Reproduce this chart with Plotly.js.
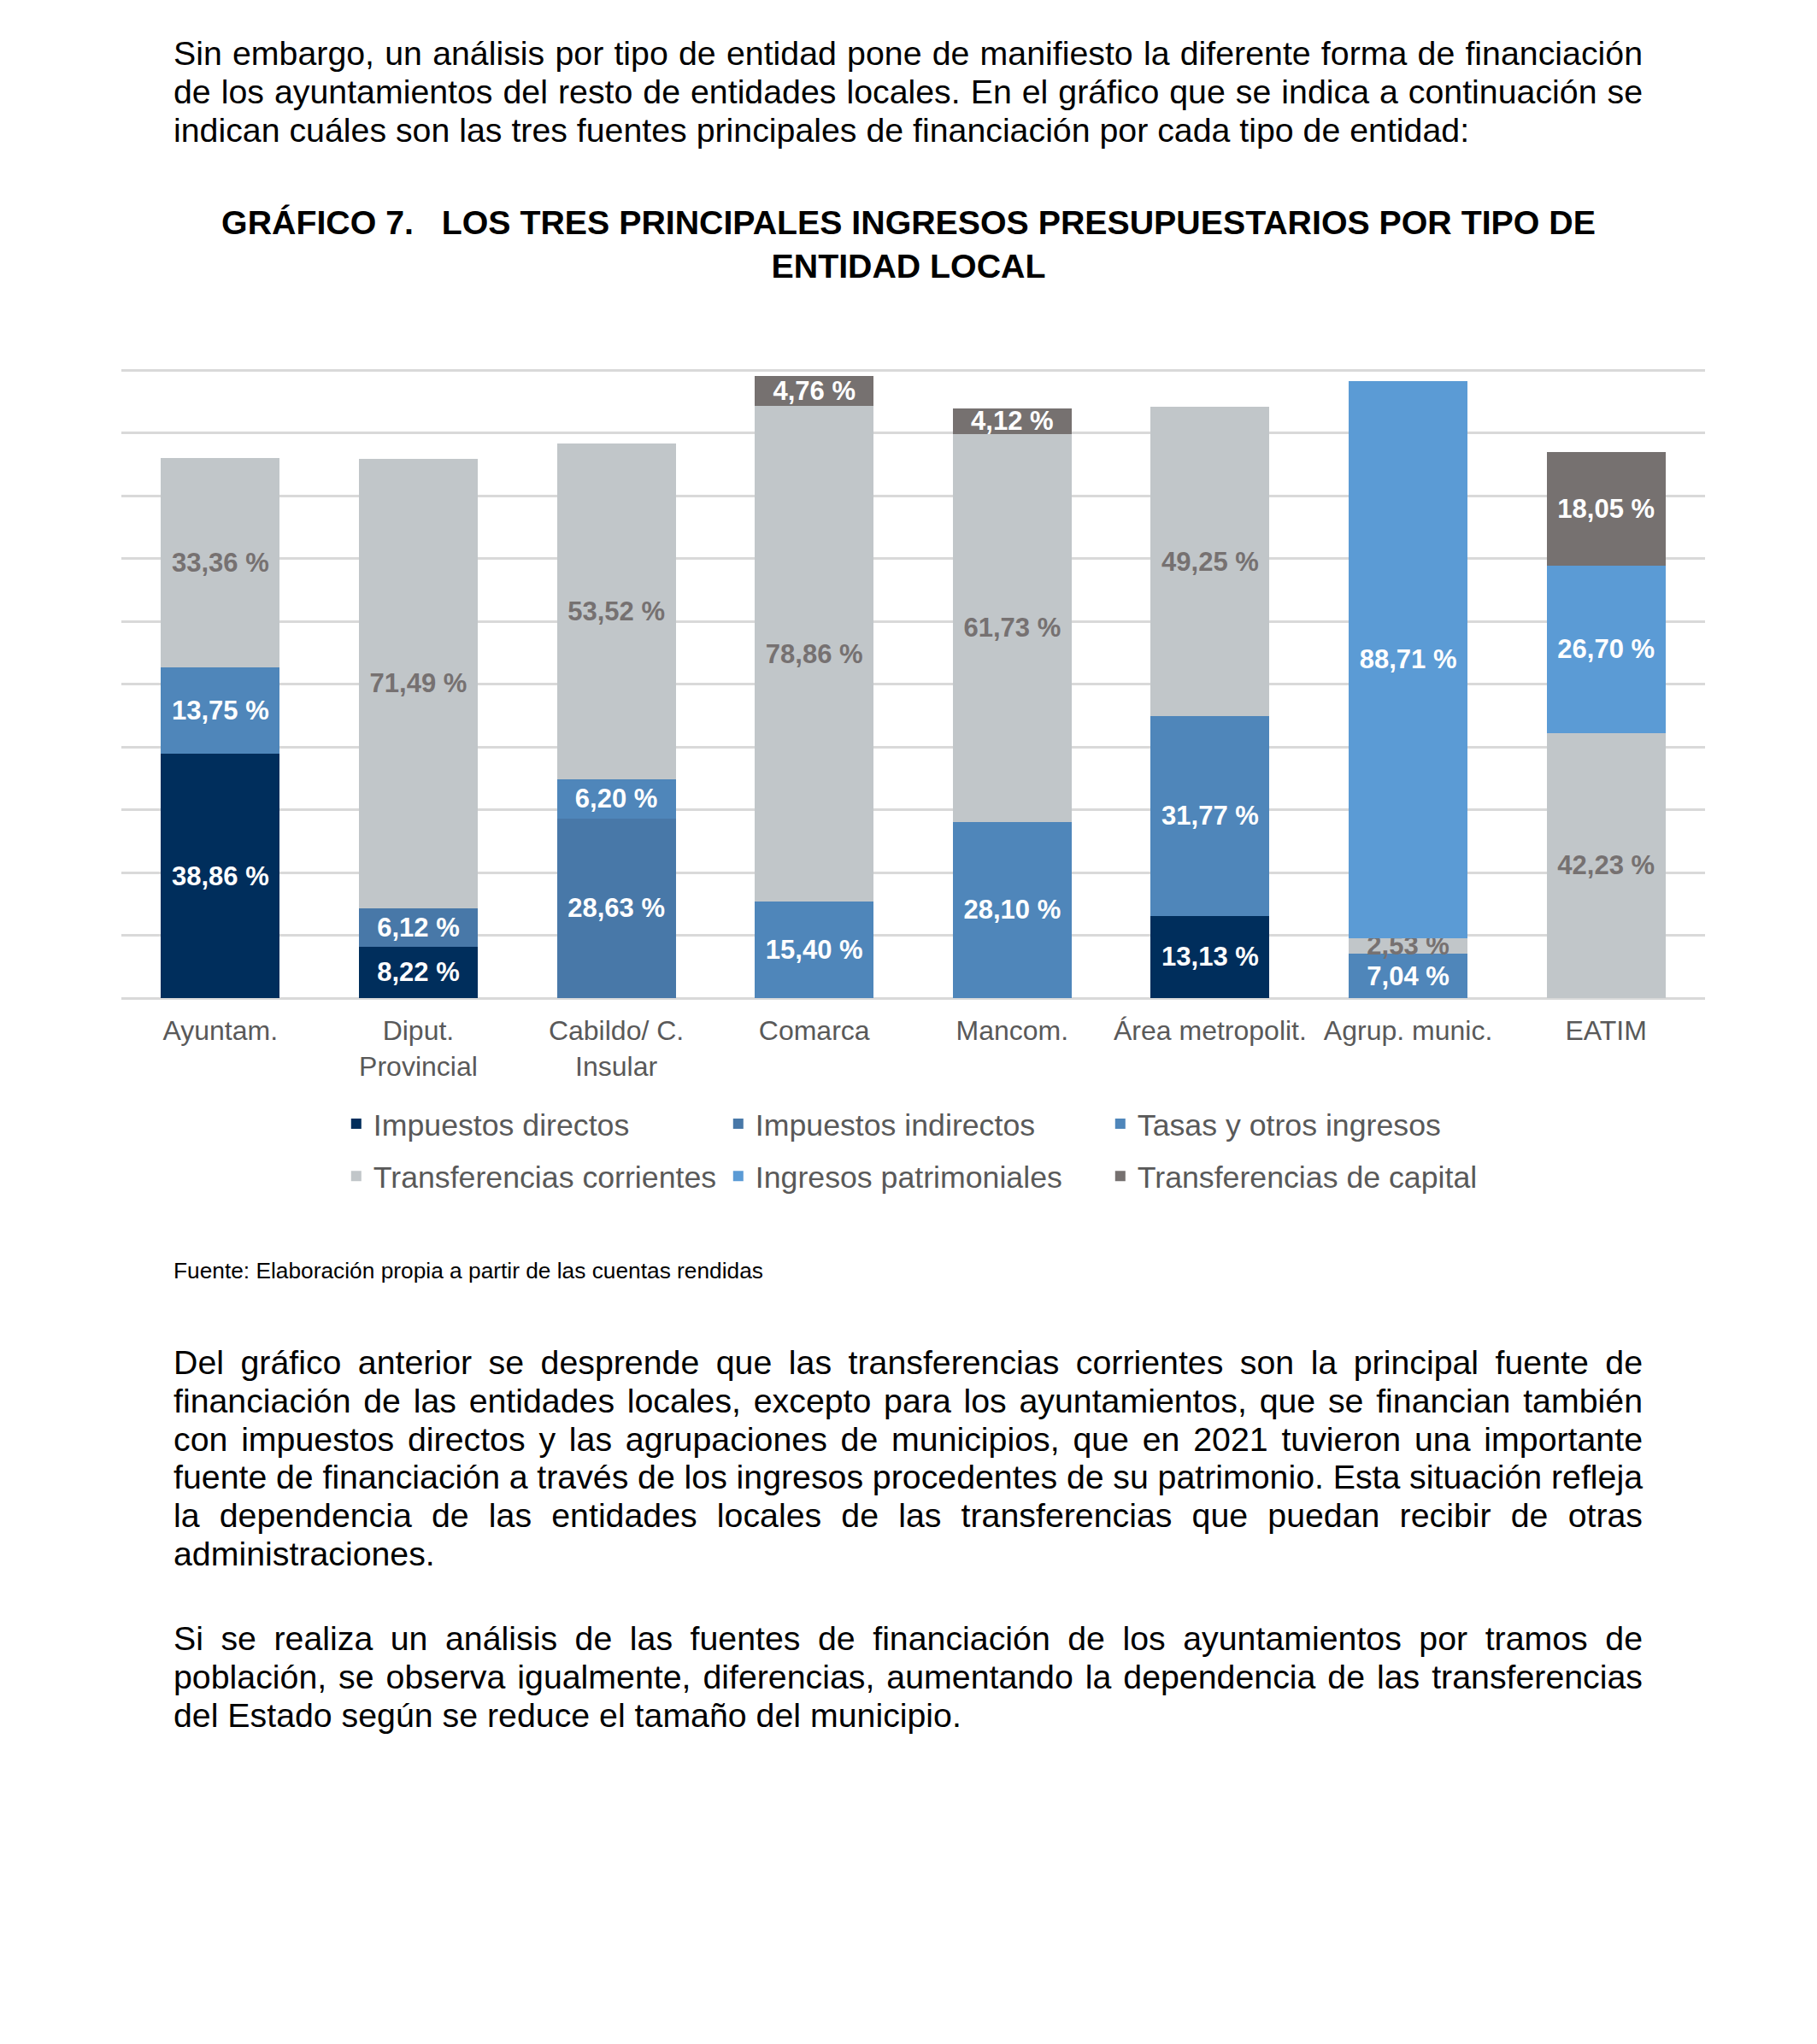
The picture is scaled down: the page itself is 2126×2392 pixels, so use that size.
<!DOCTYPE html>
<html>
<head>
<meta charset="utf-8">
<script src="https://cdn.plot.ly/plotly-3.0.1.min.js"></script>
<style>
  html, body { margin: 0; padding: 0; background: #ffffff; }
  body { width: 2126px; height: 2392px; position: relative; overflow: hidden;
         font-family: "Liberation Sans", Arial, sans-serif; color: #000; }
  .para { position: absolute; left: 203px; width: 1719px; font-size: 39.3px; line-height: 44.8px; }
  .para div { height: 44.8px; }
  .j { text-align: justify; text-align-last: justify; }
  .tight { word-spacing: -4px; }
  .src { position: absolute; left: 203px; top: 1472px; font-size: 26.3px; line-height: 30px; }
  #chart { position: absolute; left: 0; top: 200px; width: 2126px; height: 1240px; }
</style>
</head>
<body>
<div class="para" style="top:40px">
  <div class="j">Sin embargo, un análisis por tipo de entidad pone de manifiesto la diferente forma de financiación</div>
  <div class="j">de los ayuntamientos del resto de entidades locales. En el gráfico que se indica a continuación se</div>
  <div>indican cuáles son las tres fuentes principales de financiación por cada tipo de entidad:</div>
</div>

<div id="chart"></div>

<div class="src">Fuente: Elaboración propia a partir de las cuentas rendidas</div>

<div class="para" style="top:1572px">
  <div class="j">Del gráfico anterior se desprende que las transferencias corrientes son la principal fuente de</div>
  <div class="j">financiación de las entidades locales, excepto para los ayuntamientos, que se financian también</div>
  <div class="j">con impuestos directos y las agrupaciones de municipios, que en 2021 tuvieron una importante</div>
  <div class="j tight">fuente de financiación a través de los ingresos procedentes de su patrimonio. Esta situación refleja</div>
  <div class="j">la dependencia de las entidades locales de las transferencias que puedan recibir de otras</div>
  <div>administraciones.</div>
</div>

<div class="para" style="top:1895px">
  <div class="j">Si se realiza un análisis de las fuentes de financiación de los ayuntamientos por tramos de</div>
  <div class="j">población, se observa igualmente, diferencias, aumentando la dependencia de las transferencias</div>
  <div>del Estado según se reduce el tamaño del municipio.</div>
</div>

<script>
// ---- Data (percentages) ----
var categories = ['Ayuntam.', 'Diput.<br>Provincial', 'Cabildo/ C.<br>Insular', 'Comarca',
                  'Mancom.', 'Área metropolit.', 'Agrup. munic.', 'EATIM'];
var impuestosDirectos      = [38.86, 8.22, null, null, null, 13.13, null, null];
var impuestosIndirectos    = [null, 6.12, 28.63, null, null, null, null, null];
var tasasOtrosIngresos     = [13.75, null, 6.20, 15.40, 28.10, 31.77, 7.04, null];
var transfCorrientes       = [33.36, 71.49, 53.52, 78.86, 61.73, 49.25, 2.53, 42.23];
var ingresosPatrimoniales  = [null, null, null, null, null, null, 88.71, 26.70];
var transfCapital          = [null, null, null, 4.76, 4.12, null, null, 18.05];
var seriesNames = ['Impuestos directos', 'Impuestos indirectos', 'Tasas y otros ingresos',
                   'Transferencias corrientes', 'Ingresos patrimoniales', 'Transferencias de capital'];

var FONT = '"Liberation Sans", Arial, sans-serif';
var seriesValues = [impuestosDirectos, impuestosIndirectos, tasasOtrosIngresos,
                    transfCorrientes, ingresosPatrimoniales, transfCapital];
var colors = ['#002E5C', '#4878A8', '#4F86BA', '#C1C6C9', '#5B9BD5', '#767170'];
var labelColors = ['#FFFFFF', '#FFFFFF', '#FFFFFF', '#767171', '#FFFFFF', '#FFFFFF'];

var traces = seriesValues.map(function (vals, i) {
  return {
    type: 'bar',
    name: seriesNames[i],
    x: categories,
    y: vals,
    marker: { color: colors[i], line: { width: 0 } },
    texttemplate: '%{y:.2f} %',
    textposition: 'inside',
    insidetextanchor: 'middle',
    textangle: 0,
    constraintext: 'none',
    textfont: { family: FONT, size: 31, color: labelColors[i], weight: 'bold' },
    legend: i < 3 ? 'legend' : 'legend2',
    hoverinfo: 'skip'
  };
});

var legendCommon = {
  orientation: 'h',
  xanchor: 'left',
  yanchor: 'middle',
  x: 0.1375,
  entrywidth: 402,
  entrywidthmode: 'pixels',
  traceorder: 'normal',
  bgcolor: 'rgba(0,0,0,0)',
  font: { family: FONT, size: 35.7, color: '#595959' }
};

var layout = {
  width: 2126,
  height: 1240,
  margin: { l: 142, r: 131, t: 231, b: 272 },
  paper_bgcolor: '#ffffff',
  plot_bgcolor: '#ffffff',
  barmode: 'stack',
  bargap: 0.4,
  separators: ',.',
  font: { family: FONT, color: '#595959' },
  title: {
    text: '<b>GRÁFICO 7.   LOS TRES PRINCIPALES INGRESOS PRESUPUESTARIOS POR TIPO DE<br>ENTIDAD LOCAL</b>',
    font: { family: FONT, size: 39.3, color: '#000000' },
    x: 0.5, xref: 'container', xanchor: 'center',
    y: 1 - 74 / 1240, yref: 'container', yanchor: 'middle'
  },
  xaxis: {
    type: 'category',
    tickfont: { family: FONT, size: 32, color: '#595959' },
    showgrid: false,
    showline: false,
    ticks: '',
    ticklabelstandoff: 16
  },
  yaxis: {
    range: [0, 100.3],
    dtick: 10,
    showticklabels: false,
    showgrid: true,
    gridcolor: '#D9D9D9',
    gridwidth: 3,
    zeroline: true,
    zerolinecolor: '#D9D9D9',
    zerolinewidth: 3,
    ticks: ''
  },
  legend: Object.assign({}, legendCommon, { y: -0.2 }),
  legend2: Object.assign({}, legendCommon, { y: -0.283 }),
  showlegend: true
};

Plotly.newPlot('chart', traces, layout, { displayModeBar: false, staticPlot: true });
</script>
</body>
</html>
